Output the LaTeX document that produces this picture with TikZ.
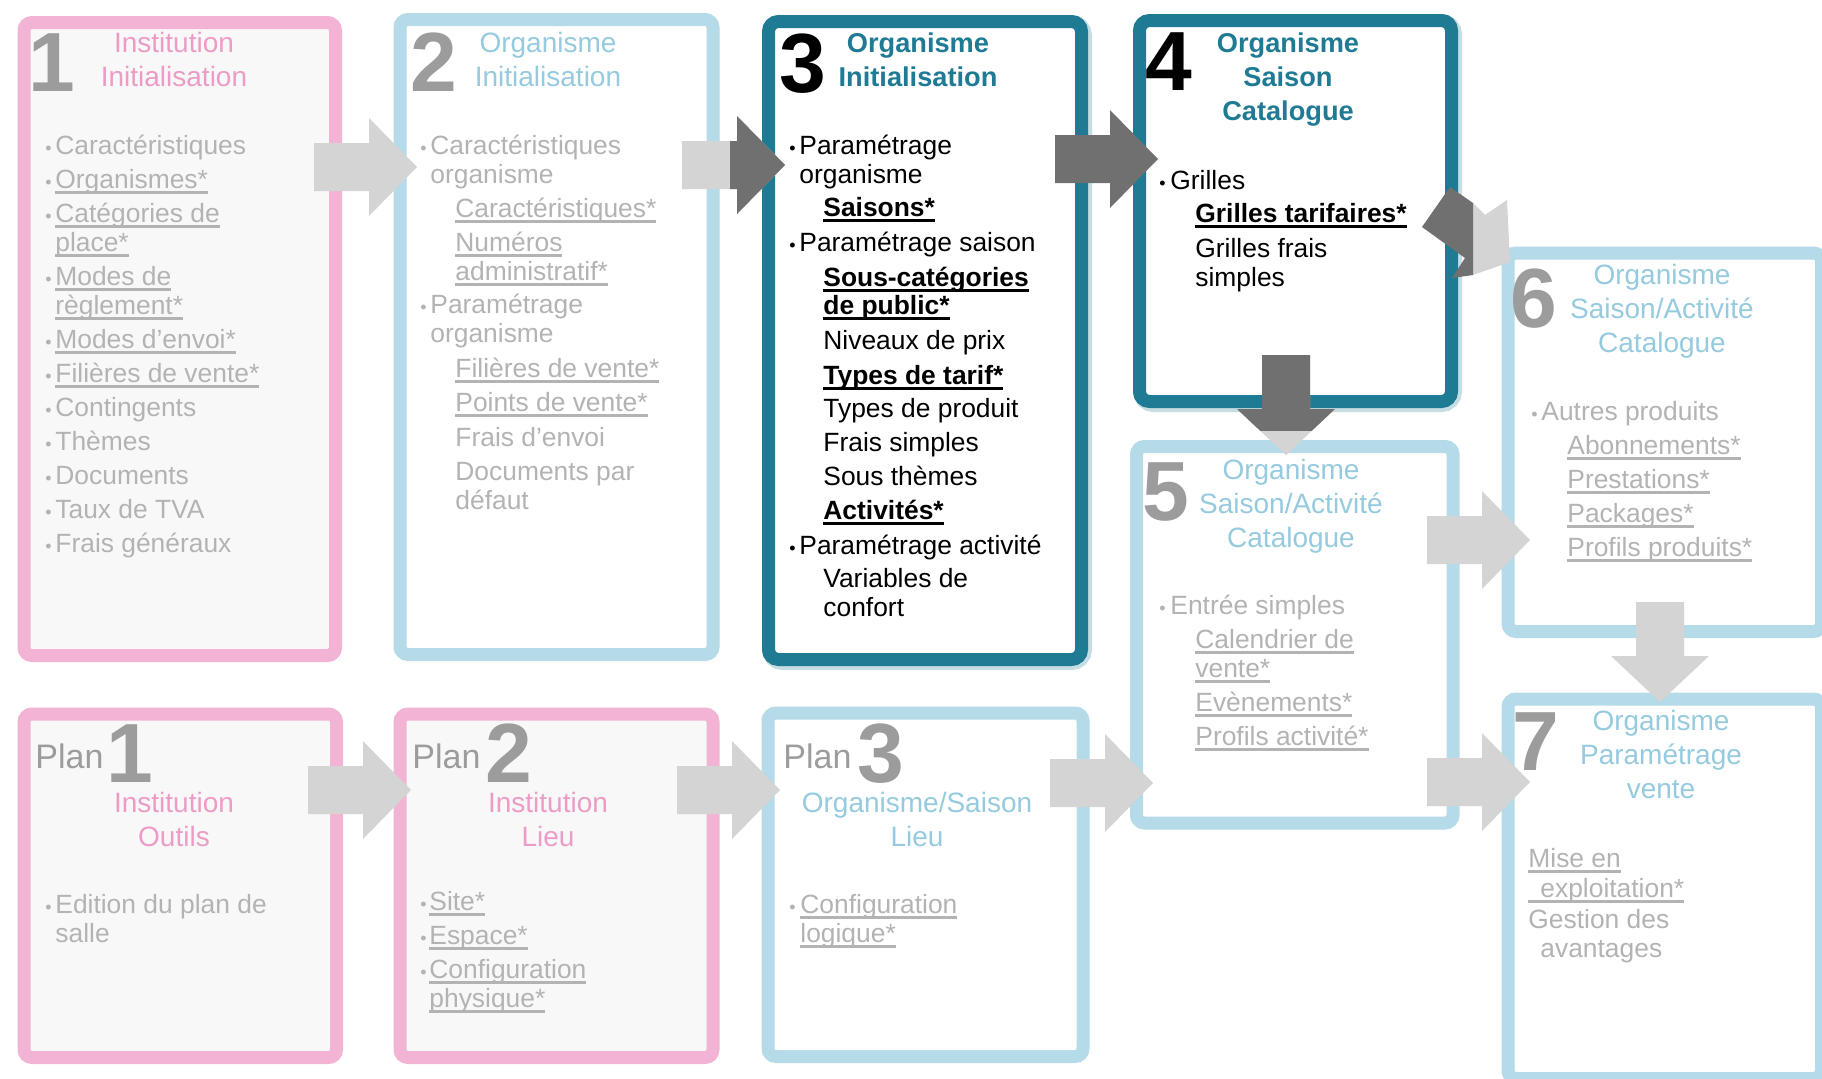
\documentclass[tikz,border=0pt]{standalone}
\usepackage{fontspec}
\setmainfont{Liberation Sans}
\newcommand\ul[1]{\setbox0\hbox{#1}\rlap{\vrule height -1.7pt depth 2.9pt width \wd0}\box0}
\definecolor{tealc}{HTML}{1F7A93}
\definecolor{darkarrow}{HTML}{707070}
\definecolor{fadepink}{HTML}{F2B3D5}
\definecolor{fadeblue}{HTML}{B5DAE8}
\definecolor{fadetext}{HTML}{B3B3B3}
\definecolor{fadepinkt}{HTML}{EC9CC6}
\definecolor{fadebluet}{HTML}{96CADF}
\definecolor{fadearrow}{HTML}{D4D4D4}
\definecolor{fadenum}{HTML}{9C9C9C}
\definecolor{pinkfill}{HTML}{F8F8F8}
\newcounter{tn}
\newcommand\boxat[6]{\node[#2,inner sep=0pt,anchor=north west,minimum width={(#5-#3)*0.5pt},minimum height={(#6-#4)*0.5pt}] (#1) at (#3,#4) {};}
\newcommand\tl[4][]{\stepcounter{tn}\node[txt,anchor=base west,#1] (t\arabic{tn}) at (#2,#3) {#4};}
\newcommand\bl[3][]{\stepcounter{tn}\node[bul,anchor=base west,#1] (t\arabic{tn}) at (#2,#3) {•};}
\newcommand\ttl[4][]{\stepcounter{tn}\node[ttlst,#1] (t\arabic{tn}) at (#2,#3) {#4};}
\newcommand\ftl[4][]{\stepcounter{tn}\node[fttlst,#1] (t\arabic{tn}) at (#2,#3) {#4};}
\newcommand\num[4][]{\stepcounter{tn}\node[numst,#1] (t\arabic{tn}) at (#2,#3) {#4};}
\newcommand\harrow[4][]{\fill[#1] (#2,#3-24) -- ++(55,0) -- ++(0,-25) -- ++(48,49) -- ++(-48,49) -- ++(0,-25) -- ++(-55,0) -- cycle;}
\newcommand\varrow[4][]{\fill[#1] (#2-24,#3) -- ++(0,54) -- ++(-25,0) -- ++(49,46) -- ++(49,-46) -- ++(-25,0) -- ++(0,-54) -- cycle;}
\begin{document}
\begin{tikzpicture}[x=0.5pt,y=-0.5pt,
  txt/.style={inner sep=0pt,font=\fontsize{13.2}{15}\selectfont},
  fd/.style={text=fadetext},
  bul/.style={inner sep=0pt,font=\fontsize{9}{9}\selectfont},
  ttlst/.style={inner sep=0pt,anchor=base,font=\fontsize{13.6}{16}\selectfont\bfseries},
  fttlst/.style={inner sep=0pt,anchor=base,font=\fontsize{14}{16}\selectfont},
  numst/.style={inner sep=0pt,anchor=base west,font=\fontsize{42}{42}\selectfont\bfseries},
  planw/.style={inner sep=0pt,anchor=base west,font=\fontsize{17}{17}\selectfont,text=fadenum},
  pinkbox/.style={draw=fadepink,line width=6.5pt,rounded corners=4pt,fill=pinkfill},
  bluebox/.style={draw=fadeblue,line width=6.5pt,rounded corners=4pt,fill=white},
  tealbox/.style={draw=tealc,line width=6.5pt,rounded corners=5pt,fill=white},
  glow/.style={draw=tealc,line width=8.5pt,rounded corners=6pt,opacity=0.25}
]
\useasboundingbox (0,0) rectangle (1822,1078);
\fill[white] (0,0) rectangle (1822,1078);
% ---------- boxes ----------
\boxat{b1}{pinkbox}{17.5}{16}{329}{649}
\boxat{b2}{bluebox}{393.5}{13}{706.5}{648}
\boxat{g3}{glow}{762}{15}{1075}{653}
\boxat{b3}{tealbox}{762}{15}{1075}{653}
\boxat{g4}{glow}{1133}{14}{1445}{395}
\boxat{b4}{tealbox}{1133}{14}{1445}{395}
\boxat{b5}{bluebox}{1130}{440}{1446.5}{816.5}
\boxat{b6}{bluebox}{1501.5}{246.5}{1815}{625}
\boxat{b7}{bluebox}{1501.5}{692.5}{1815}{1072}
\boxat{p1}{pinkbox}{17.5}{707.5}{330}{1051}
\boxat{p2}{pinkbox}{393.5}{707.5}{706.5}{1051}
\boxat{p3}{bluebox}{761.5}{706.5}{1076.5}{1050}
% ---------- arrows ----------
\harrow[fadearrow]{314}{167}{}
\harrow[fadearrow]{682}{165}{}
\begin{scope}
\clip (730,0) rectangle (1000,400);
\harrow[darkarrow]{682}{165}{}
\end{scope}
\harrow[darkarrow]{1055}{159}{}
\varrow[fadearrow]{1286}{355}{}
\begin{scope}
\clip (1200,300) rectangle (1400,430);
\varrow[darkarrow]{1286}{355}{}
\end{scope}
\fill[fadearrow] (1473,203) -- (1485,215) -- (1507,200) -- (1510,262) -- (1473,275) -- cycle;
\fill[darkarrow] (1422,227) -- (1450,187) -- (1473,203) -- (1473,275) -- (1452,278) -- (1465,258) -- cycle;
\harrow[fadearrow]{1427}{540}{}
\harrow[fadearrow]{1427}{782}{}
\varrow[fadearrow]{1660}{602}{}
\harrow[fadearrow]{308}{790}{}
\harrow[fadearrow]{677}{790}{}
\harrow[fadearrow]{1050}{783}{}
% ---------- box 1 ----------
\num[text=fadenum]{28}{91}{1}
\ftl[text=fadepinkt]{174}{52}{Institution}
\ftl[text=fadepinkt]{174}{86}{Initialisation}
\bl[fd]{45}{154}\tl[fd]{55}{154}{Caractéristiques}
\bl[fd]{45}{188}\tl[fd]{55}{188}{\ul{Organismes*}}
\bl[fd]{45}{222}\tl[fd]{55}{222}{\ul{Catégories de}}
\tl[fd]{55}{251}{\ul{place*}}
\bl[fd]{45}{285}\tl[fd]{55}{285}{\ul{Modes de}}
\tl[fd]{55}{314}{\ul{règlement*}}
\bl[fd]{45}{348}\tl[fd]{55}{348}{\ul{Modes d’envoi*}}
\bl[fd]{45}{382}\tl[fd]{55}{382}{\ul{Filières de vente*}}
\bl[fd]{45}{416}\tl[fd]{55}{416}{Contingents}
\bl[fd]{45}{450}\tl[fd]{55}{450}{Thèmes}
\bl[fd]{45}{484}\tl[fd]{55}{484}{Documents}
\bl[fd]{45}{518}\tl[fd]{55}{518}{Taux de TVA}
\bl[fd]{45}{552}\tl[fd]{55}{552}{Frais généraux}
% ---------- box 2 ----------
\num[text=fadenum]{410}{91}{2}
\ftl[text=fadebluet]{548}{52}{Organisme}
\ftl[text=fadebluet]{548}{86}{Initialisation}
\bl[fd]{420}{154}\tl[fd]{430}{154}{Caractéristiques}
\tl[fd]{430}{183}{organisme}
\tl[fd]{455}{217}{\ul{Caractéristiques*}}
\tl[fd]{455}{251}{\ul{Numéros}}
\tl[fd]{455}{280}{\ul{administratif*}}
\bl[fd]{420}{313}\tl[fd]{430}{313}{Paramétrage}
\tl[fd]{430}{342}{organisme}
\tl[fd]{455}{377}{\ul{Filières de vente*}}
\tl[fd]{455}{411}{\ul{Points de vente*}}
\tl[fd]{455}{446}{Frais d’envoi}
\tl[fd]{455}{480}{Documents par}
\tl[fd]{455}{509}{défaut}
% ---------- box 3 ----------
\num{779}{92}{3}
\ttl[text=tealc]{918}{52}{Organisme}
\ttl[text=tealc]{918}{86}{Initialisation}
\bl{789}{154}\tl{799}{154}{Paramétrage}
\tl{799}{183}{organisme}
\tl{823}{216}{\textbf{\ul{Saisons*}}}
\bl{789}{251}\tl{799}{251}{Paramétrage saison}
\tl{823}{286}{\textbf{\ul{Sous-catégories}}}
\tl{823}{314}{\textbf{\ul{de public*}}}
\tl{823}{349}{Niveaux de prix}
\tl{823}{384}{\textbf{\ul{Types de tarif*}}}
\tl{823}{417}{Types de produit}
\tl{823}{451}{Frais simples}
\tl{823}{485}{Sous thèmes}
\tl{823}{519}{\textbf{\ul{Activités*}}}
\bl{789}{554}\tl{799}{554}{Paramétrage activité}
\tl{823}{587}{Variables de}
\tl{823}{616}{confort}
% ---------- box 4 ----------
\num{1145}{90}{4}
\ttl[text=tealc]{1288}{52}{Organisme}
\ttl[text=tealc]{1288}{86}{Saison}
\ttl[text=tealc]{1288}{120}{Catalogue}
\bl{1159}{189}\tl{1170}{189}{Grilles}
\tl{1195}{222}{\textbf{\ul{Grilles tarifaires*}}}
\tl{1195}{257}{Grilles frais}
\tl{1195}{286}{simples}
% ---------- box 5 ----------
\num[text=fadenum]{1142}{520}{5}
\ftl[text=fadebluet]{1291}{479}{Organisme}
\ftl[text=fadebluet]{1291}{513}{Saison/Activité}
\ftl[text=fadebluet]{1291}{547}{Catalogue}
\bl[fd]{1159}{614}\tl[fd]{1170}{614}{Entrée simples}
\tl[fd]{1195}{648}{\ul{Calendrier de}}
\tl[fd]{1195}{677}{\ul{vente*}}
\tl[fd]{1195}{711}{\ul{Evènements*}}
\tl[fd]{1195}{745}{\ul{Profils activité*}}
% ---------- box 6 ----------
\num[text=fadenum]{1510}{327}{6}
\ftl[text=fadebluet]{1662}{284}{Organisme}
\ftl[text=fadebluet]{1662}{318}{Saison/Activité}
\ftl[text=fadebluet]{1662}{352}{Catalogue}
\bl[fd]{1531}{420}\tl[fd]{1541}{420}{Autres produits}
\tl[fd]{1567}{454}{\ul{Abonnements*}}
\tl[fd]{1567}{488}{\ul{Prestations*}}
\tl[fd]{1567}{522}{\ul{Packages*}}
\tl[fd]{1567}{556}{\ul{Profils produits*}}
% ---------- box 7 ----------
\num[text=fadenum]{1512}{770}{7}
\ftl[text=fadebluet]{1661}{730}{Organisme}
\ftl[text=fadebluet]{1661}{764}{Paramétrage}
\ftl[text=fadebluet]{1661}{798}{vente}
\tl[fd]{1528}{867}{\ul{Mise en}}
\tl[fd]{1528}{897}{\ul{\hbox to 6pt{}exploitation*}}
\tl[fd]{1528}{928}{Gestion des}
\tl[fd]{1540}{957}{avantages}
% ---------- plan 1 ----------
\stepcounter{tn}\node[planw] (t\arabic{tn}) at (35,768) {Plan};
\num[text=fadenum]{106}{782}{1}
\ftl[text=fadepinkt]{174}{812}{Institution}
\ftl[text=fadepinkt]{174}{846}{Outils}
\bl[fd]{45}{913}\tl[fd]{55}{913}{Edition du plan de}
\tl[fd]{55}{942}{salle}
% ---------- plan 2 ----------
\stepcounter{tn}\node[planw] (t\arabic{tn}) at (412,768) {Plan};
\num[text=fadenum]{485}{782}{2}
\ftl[text=fadepinkt]{548}{812}{Institution}
\ftl[text=fadepinkt]{548}{846}{Lieu}
\bl[fd]{420}{910}\tl[fd]{429}{910}{\ul{Site*}}
\bl[fd]{420}{944}\tl[fd]{429}{944}{\ul{Espace*}}
\bl[fd]{420}{978}\tl[fd]{429}{978}{\ul{Configuration}}
\tl[fd]{429}{1007}{\ul{physique*}}
% ---------- plan 3 ----------
\stepcounter{tn}\node[planw] (t\arabic{tn}) at (783,768) {Plan};
\num[text=fadenum]{857}{782}{3}
\ftl[text=fadebluet]{917}{812}{Organisme/Saison}
\ftl[text=fadebluet]{917}{846}{Lieu}
\bl[fd]{789}{913}\tl[fd]{800}{913}{\ul{Configuration}}
\tl[fd]{800}{942}{\ul{logique*}}
\end{tikzpicture}
\end{document}
